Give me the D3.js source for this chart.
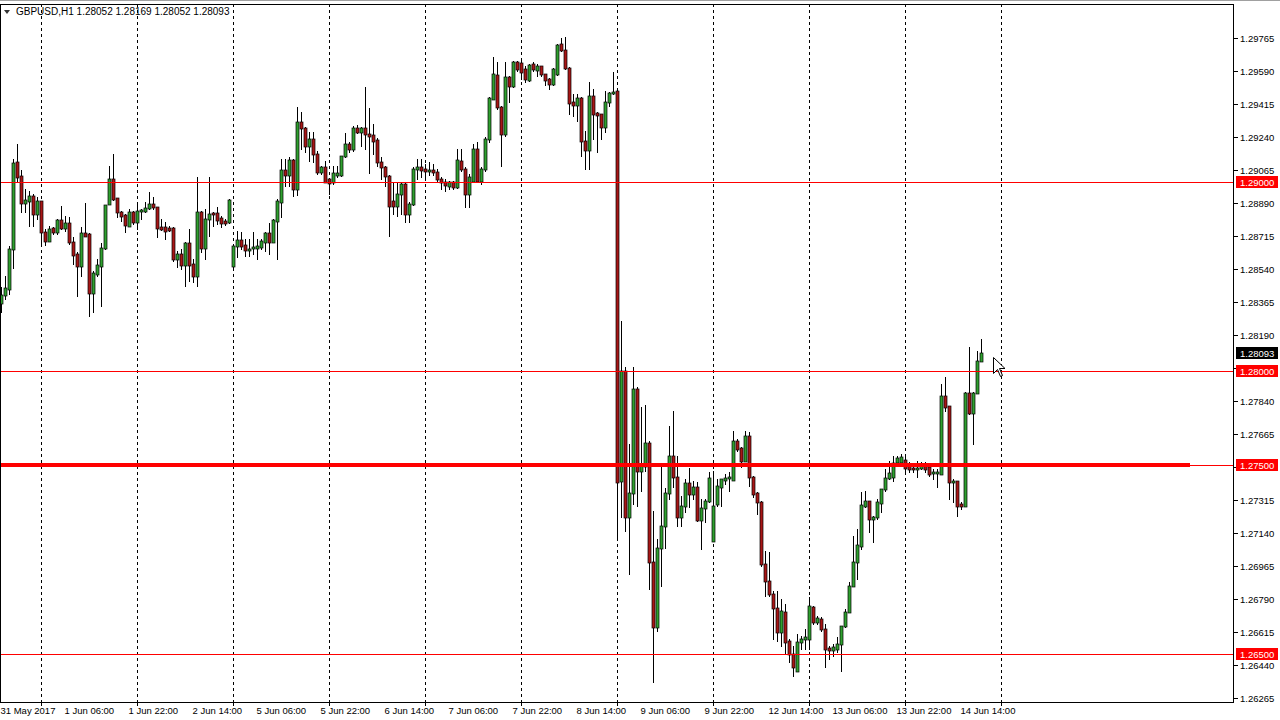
<!DOCTYPE html>
<html><head><meta charset="utf-8">
<script src="https://cdn.jsdelivr.net/npm/d3@7"></script>
<style>
body{margin:0;background:#fff;}
svg{display:block;}
text{font-family:"Liberation Sans",Arial,sans-serif;font-size:9.5px;fill:#000;}
</style>
</head><body>
<svg id="chart" width="1280" height="720"></svg>
<script>
// ---------- DATA ----------
const symbolTitle = "GBPUSD,H1";
const openP = [
1.28358,1.28401,1.28433,1.28645,1.29106,1.29032,1.28889,1.28899,1.28926,1.28830,
1.28899,1.28735,1.28687,1.28756,1.28735,1.28798,1.28756,1.28783,1.28682,1.28618,
1.28555,1.28730,1.28724,1.28411,1.28512,1.28555,1.28650,1.28883,1.29016,1.28915,
1.28841,1.28825,1.28767,1.28841,1.28788,1.28846,1.28846,1.28862,1.28883,1.28867,
1.28761,1.28761,1.28756,1.28756,1.28592,1.28618,1.28560,1.28677,1.28565,1.28502,
1.28841,1.28650,1.28804,1.28836,1.28836,1.28809,1.28793,1.28788,1.28555,1.28661,
1.28692,1.28666,1.28639,1.28650,1.28650,1.28655,1.28682,1.28730,1.28682,1.28793,
1.28894,1.29064,1.29037,1.29117,1.28963,1.29318,1.29286,1.29191,1.29228,1.29148,
1.29053,1.29080,1.29016,1.29000,1.29037,1.29037,1.29138,1.29202,1.29175,1.29286,
1.29265,1.29286,1.29255,1.29249,1.29223,1.29106,1.29080,1.29032,1.28899,1.28873,
1.28936,1.28989,1.28830,1.28883,1.29069,1.29080,1.29069,1.29058,1.29064,1.29053,
1.29016,1.29000,1.28979,1.29000,1.28973,1.29111,1.29069,1.28936,1.29005,1.29175,
1.29005,1.29069,1.29228,1.29440,1.29567,1.29398,1.29255,1.29557,1.29509,1.29636,
1.29631,1.29599,1.29541,1.29626,1.29594,1.29615,1.29573,1.29546,1.29520,1.29573,
1.29732,1.29700,1.29605,1.29424,1.29408,1.29445,1.29217,1.29170,1.29456,1.29366,
1.29361,1.29292,1.29424,1.29472,1.29483,1.27414,1.27998,1.27224,1.27351,1.27902,
1.27467,1.27494,1.27616,1.26985,1.26640,1.27059,1.27176,1.27351,1.27547,1.27436,
1.27224,1.27282,1.27404,1.27346,1.27383,1.27208,1.27271,1.27308,1.27096,1.27293,
1.27383,1.27420,1.27430,1.27420,1.27627,1.27590,1.27520,1.27653,1.27436,1.27351,
1.27303,1.26974,1.26884,1.26815,1.26741,1.26614,1.26720,1.26566,1.26497,1.26407,
1.26561,1.26577,1.26577,1.26747,1.26667,1.26683,1.26630,1.26529,1.26518,1.26524,
1.26550,1.26646,1.26720,1.26858,1.26985,1.27070,1.27282,1.27308,1.27213,1.27224,
1.27298,1.27372,1.27430,1.27436,1.27515,1.27515,1.27526,1.27499,1.27483,1.27478,
1.27483,1.27505,1.27489,1.27457,1.27457,1.27452,1.27865,1.27812,1.27409,1.27414,
1.27293,1.27282,1.27881,1.27775,1.27881,1.28052];
const highP = [
1.28443,1.28502,1.28661,1.29122,1.29202,1.29064,1.28963,1.28952,1.28936,1.28920,
1.28899,1.28751,1.28767,1.28761,1.28804,1.28873,1.28820,1.28814,1.28708,1.28629,
1.28761,1.28889,1.28730,1.28528,1.28592,1.28677,1.28878,1.29085,1.29148,1.28915,
1.28846,1.28830,1.28857,1.28846,1.28883,1.28857,1.28894,1.28947,1.28920,1.28867,
1.28804,1.28788,1.28767,1.28761,1.28634,1.28645,1.28682,1.28751,1.28592,1.29027,
1.28846,1.28857,1.29027,1.28841,1.28867,1.28820,1.28804,1.28910,1.28671,1.28740,
1.28735,1.28698,1.28698,1.28735,1.28698,1.28698,1.28735,1.28783,1.28804,1.28910,
1.29122,1.29122,1.29133,1.29122,1.29398,1.29371,1.29292,1.29265,1.29265,1.29164,
1.29085,1.29111,1.29021,1.29085,1.29085,1.29138,1.29260,1.29212,1.29297,1.29302,
1.29292,1.29504,1.29392,1.29308,1.29233,1.29133,1.29085,1.29037,1.29000,1.29000,
1.29000,1.28995,1.28894,1.29080,1.29122,1.29122,1.29095,1.29106,1.29095,1.29069,
1.29027,1.29016,1.29005,1.29005,1.29175,1.29175,1.29080,1.29042,1.29202,1.29212,
1.29080,1.29239,1.29451,1.29663,1.29636,1.29403,1.29636,1.29562,1.29642,1.29642,
1.29642,1.29615,1.29626,1.29636,1.29626,1.29615,1.29573,1.29552,1.29605,1.29732,
1.29764,1.29769,1.29610,1.29467,1.29467,1.29451,1.29270,1.29530,1.29493,1.29371,
1.29361,1.29483,1.29477,1.29583,1.29493,1.28263,1.28019,1.27611,1.28019,1.27913,
1.27807,1.27817,1.27627,1.27255,1.27107,1.27494,1.27377,1.27706,1.27786,1.27547,
1.27335,1.27425,1.27483,1.27414,1.27409,1.27319,1.27319,1.27462,1.27467,1.27425,
1.27425,1.27452,1.27462,1.27680,1.27637,1.27595,1.27680,1.27675,1.27441,1.27356,
1.27308,1.27043,1.27038,1.26831,1.26831,1.26789,1.26762,1.26577,1.26540,1.26603,
1.26593,1.26630,1.26799,1.26752,1.26699,1.26693,1.26656,1.26540,1.26550,1.26587,
1.26646,1.26736,1.26879,1.27123,1.27160,1.27356,1.27362,1.27308,1.27229,1.27319,
1.27372,1.27478,1.27520,1.27547,1.27547,1.27558,1.27558,1.27515,1.27505,1.27520,
1.27515,1.27515,1.27494,1.27478,1.27478,1.27929,1.27966,1.27812,1.27425,1.27414,
1.27303,1.27886,1.28125,1.27886,1.28104,1.28169];
const lowP = [
1.28311,1.28380,1.28406,1.28544,1.29000,1.28841,1.28841,1.28767,1.28767,1.28804,
1.28661,1.28666,1.28687,1.28724,1.28724,1.28751,1.28740,1.28671,1.28565,1.28395,
1.28502,1.28714,1.28289,1.28311,1.28502,1.28342,1.28645,1.28883,1.28905,1.28814,
1.28793,1.28735,1.28767,1.28777,1.28751,1.28804,1.28841,1.28857,1.28857,1.28708,
1.28745,1.28698,1.28740,1.28581,1.28549,1.28539,1.28449,1.28475,1.28470,1.28449,
1.28629,1.28592,1.28714,1.28767,1.28777,1.28761,1.28772,1.28783,1.28539,1.28602,
1.28645,1.28608,1.28608,1.28618,1.28592,1.28645,1.28634,1.28618,1.28682,1.28592,
1.28814,1.28979,1.28979,1.28926,1.28931,1.29175,1.29159,1.29111,1.29106,1.29042,
1.29042,1.29000,1.28936,1.28989,1.29027,1.29032,1.29133,1.29159,1.29164,1.29260,
1.29191,1.29175,1.29048,1.29148,1.29085,1.29016,1.28979,1.28714,1.28830,1.28820,
1.28830,1.28788,1.28788,1.28878,1.29016,1.29027,1.29016,1.29037,1.29037,1.29000,
1.28963,1.28952,1.28963,1.28963,1.28968,1.29058,1.28867,1.28867,1.29005,1.29000,
1.28989,1.29058,1.29212,1.29440,1.29387,1.29085,1.29244,1.29424,1.29504,1.29589,
1.29546,1.29530,1.29536,1.29589,1.29562,1.29562,1.29514,1.29493,1.29514,1.29567,
1.29695,1.29599,1.29361,1.29350,1.29323,1.29138,1.29069,1.29069,1.29228,1.29159,
1.29228,1.29265,1.29403,1.29467,1.27107,1.27224,1.27149,1.26921,1.27293,1.27282,
1.27362,1.27467,1.26842,1.26349,1.26619,1.26858,1.27059,1.27319,1.27383,1.27176,
1.27176,1.27250,1.27277,1.27319,1.27203,1.27054,1.27197,1.27303,1.27096,1.27282,
1.27282,1.27399,1.27362,1.27420,1.27573,1.27489,1.27520,1.27388,1.27330,1.27240,
1.26963,1.26804,1.26804,1.26577,1.26566,1.26540,1.26497,1.26455,1.26380,1.26407,
1.26524,1.26524,1.26524,1.26656,1.26656,1.26619,1.26428,1.26471,1.26487,1.26508,
1.26407,1.26640,1.26720,1.26858,1.26895,1.27054,1.27277,1.27144,1.27091,1.27213,
1.27250,1.27362,1.27425,1.27414,1.27505,1.27494,1.27467,1.27462,1.27462,1.27436,
1.27478,1.27462,1.27441,1.27425,1.27383,1.27452,1.27786,1.27319,1.27303,1.27229,
1.27266,1.27282,1.27770,1.27611,1.27881,1.28052];
const closeP = [
1.28401,1.28438,1.28645,1.29101,1.29027,1.28889,1.28905,1.28926,1.28830,1.28899,
1.28735,1.28687,1.28751,1.28735,1.28798,1.28756,1.28783,1.28682,1.28613,1.28555,
1.28730,1.28714,1.28411,1.28517,1.28560,1.28650,1.28878,1.29016,1.28910,1.28841,
1.28820,1.28772,1.28841,1.28788,1.28846,1.28852,1.28862,1.28883,1.28867,1.28756,
1.28751,1.28740,1.28745,1.28592,1.28618,1.28560,1.28677,1.28560,1.28502,1.28841,
1.28650,1.28804,1.28830,1.28830,1.28798,1.28783,1.28783,1.28905,1.28661,1.28692,
1.28661,1.28639,1.28645,1.28655,1.28661,1.28687,1.28730,1.28682,1.28798,1.28899,
1.29064,1.29037,1.29117,1.28963,1.29318,1.29286,1.29191,1.29228,1.29148,1.29053,
1.29080,1.29000,1.28995,1.29048,1.29048,1.29138,1.29202,1.29175,1.29286,1.29265,
1.29286,1.29255,1.29244,1.29217,1.29106,1.29080,1.29032,1.28873,1.28873,1.28936,
1.28989,1.28830,1.28883,1.29069,1.29080,1.29064,1.29058,1.29064,1.29053,1.29016,
1.29000,1.28984,1.29000,1.28973,1.29117,1.29069,1.28936,1.29027,1.29175,1.29005,
1.29069,1.29228,1.29445,1.29573,1.29398,1.29255,1.29557,1.29509,1.29636,1.29599,
1.29583,1.29546,1.29620,1.29599,1.29615,1.29573,1.29541,1.29520,1.29599,1.29727,
1.29700,1.29605,1.29419,1.29408,1.29445,1.29217,1.29170,1.29456,1.29361,1.29355,
1.29292,1.29424,1.29472,1.29477,1.27409,1.27998,1.27224,1.27351,1.27902,1.27467,
1.27494,1.27616,1.26985,1.26640,1.27059,1.27176,1.27351,1.27547,1.27436,1.27224,
1.27282,1.27404,1.27346,1.27383,1.27208,1.27271,1.27308,1.27430,1.27282,1.27388,
1.27425,1.27430,1.27436,1.27627,1.27584,1.27520,1.27653,1.27436,1.27346,1.27303,
1.26974,1.26884,1.26815,1.26741,1.26614,1.26725,1.26561,1.26497,1.26428,1.26561,
1.26577,1.26587,1.26752,1.26667,1.26688,1.26630,1.26524,1.26518,1.26534,1.26550,
1.26646,1.26720,1.26858,1.26985,1.27075,1.27287,1.27308,1.27213,1.27224,1.27303,
1.27372,1.27430,1.27457,1.27510,1.27536,1.27542,1.27483,1.27478,1.27478,1.27483,
1.27505,1.27478,1.27452,1.27462,1.27462,1.27865,1.27807,1.27409,1.27414,1.27282,
1.27282,1.27881,1.27775,1.27881,1.28051,1.28093];
const timeLabels = ["31 May 2017","1 Jun 06:00","1 Jun 22:00","2 Jun 14:00","5 Jun 06:00","5 Jun 22:00",
  "6 Jun 14:00","7 Jun 06:00","7 Jun 22:00","8 Jun 14:00","9 Jun 06:00","9 Jun 22:00",
  "12 Jun 14:00","13 Jun 06:00","13 Jun 22:00","14 Jun 14:00"];
const timeLabelBars = [0,16,32,48,64,80,96,112,128,144,160,176,192,208,224,240];
const dayStartBars = [10,34,58,82,106,130,154,178,202,226,250];
const priceTicks = [1.29765,1.29590,1.29415,1.29240,1.29065,1.28890,1.28715,1.28540,1.28365,1.28190,
  1.28015,1.27840,1.27665,1.27490,1.27315,1.27140,1.26965,1.26790,1.26615,1.26440,1.26265];
const levelLines = [1.29000,1.28000,1.27500,1.26500];
const thickLevel = 1.27500;
const lastPrice = 1.28093;

// ---------- DRAW ----------
const svg = d3.select("#chart");
const P = {left:0, right:1234, top:4, bottom:702};
const x = d3.scaleLinear().domain([0, 245]).range([1.5, 981.5]);
const y = d3.scaleLinear().domain([1.29765, 1.26265]).range([38, 698]);
const py = v => Math.round(y(v)) + 0.5;
const bullFill = "#2fa02f", bearFill = "#a81616";

svg.append("rect").attr("width",1280).attr("height",720).attr("fill","#fff");
svg.append("defs").append("clipPath").attr("id","clip").append("rect")
  .attr("x",P.left).attr("y",P.top).attr("width",P.right-P.left).attr("height",P.bottom-P.top);

const plot = svg.append("g").attr("clip-path","url(#clip)");

// vertical dashed grid
plot.selectAll("line.vg").data(dayStartBars).join("line")
  .attr("x1",d=>x(d)).attr("x2",d=>x(d)).attr("y1",P.top).attr("y2",P.bottom)
  .attr("stroke","#000").attr("stroke-width",1).attr("stroke-dasharray","3,3");

// candles
const idx = d3.range(openP.length);
const cg = plot.append("g");
cg.selectAll("line.wick").data(idx).join("line")
  .attr("x1",i=>x(i)).attr("x2",i=>x(i))
  .attr("y1",i=>Math.round(y(highP[i]))).attr("y2",i=>Math.round(y(lowP[i]))+1)
  .attr("stroke","#000").attr("stroke-width",1);
cg.selectAll("rect.body").data(idx).join("rect")
  .attr("x",i=>x(i)-1.5)
  .attr("y",i=>Math.round(y(Math.max(openP[i],closeP[i]))))
  .attr("width",3)
  .attr("height",i=>Math.max(1, Math.round(y(Math.min(openP[i],closeP[i]))) - Math.round(y(Math.max(openP[i],closeP[i]))) + 1))
  .attr("fill",i=>closeP[i]>=openP[i]?bullFill:bearFill)
  .attr("stroke","#000").attr("stroke-width",0.7);

// horizontal levels
plot.selectAll("line.lvl").data(levelLines).join("line")
  .attr("x1",P.left).attr("x2",P.right).attr("y1",d=>py(d)).attr("y2",d=>py(d))
  .attr("stroke","#ff0000").attr("stroke-width",1);
plot.append("line").attr("x1",0).attr("x2",1190)
  .attr("y1",y(thickLevel)).attr("y2",y(thickLevel))
  .attr("stroke","#ff0000").attr("stroke-width",4);

// frame
svg.append("rect").attr("x",P.left+0.5).attr("y",P.top+0.5)
  .attr("width",P.right-P.left-1).attr("height",P.bottom-P.top)
  .attr("fill","none").attr("stroke","#000");
svg.append("line").attr("x1",0).attr("x2",1280).attr("y1",0.5).attr("y2",0.5).attr("stroke","#a0a0a0");

// right price axis
const ax = svg.append("g");
ax.selectAll("line.t").data(priceTicks).join("line")
  .attr("x1",P.right).attr("x2",P.right+4).attr("y1",d=>py(d)).attr("y2",d=>py(d)).attr("stroke","#000");
ax.selectAll("text.t").data(priceTicks).join("text")
  .attr("x",P.right+6).attr("y",d=>py(d)+3.5).text(d=>d.toFixed(5));

// level boxes
const boxes = levelLines.map(v=>({v, fill:"#ff0000"})).concat([{v:lastPrice, fill:"#000"}]);
const bg = svg.append("g");
bg.selectAll("rect").data(boxes).join("rect")
  .attr("x",P.right+2).attr("y",d=>Math.round(y(d.v))-6).attr("width",42).attr("height",12)
  .attr("fill",d=>d.fill);
bg.selectAll("text").data(boxes).join("text")
  .attr("x",P.right+6).attr("y",d=>Math.round(y(d.v))+3.5).style("fill","#fff")
  .text(d=>d.v.toFixed(5));

// bottom time axis
const bx = svg.append("g");
bx.selectAll("line").data(dayStartBars.filter(d=>x(d)<P.right)).join("line")
  .attr("x1",d=>x(d)).attr("x2",d=>x(d)).attr("y1",P.bottom).attr("y2",P.bottom+4).attr("stroke","#000");
bx.selectAll("text").data(timeLabelBars).join("text")
  .attr("x",(d)=>x(d)-1).attr("y",714).text((d,i)=>timeLabels[i]);

// title
svg.append("path").attr("d","M4,10 L10,10 L7,14 Z").attr("fill","#333");
svg.append("text").attr("x",16).attr("y",15).style("font-size","10px")
  .text(symbolTitle + "  " + [openP[245],highP[245],lowP[245],closeP[245]].map(v=>v.toFixed(5)).join(" "));

// mouse cursor
svg.append("path")
  .attr("d","M993.5,357.5 l0,16 l4,-4 l3,7 l2,-1 l-3,-7 l5.5,0 Z")
  .attr("fill","#fff").attr("stroke","#000").attr("stroke-width",1);
</script>
</body></html>
